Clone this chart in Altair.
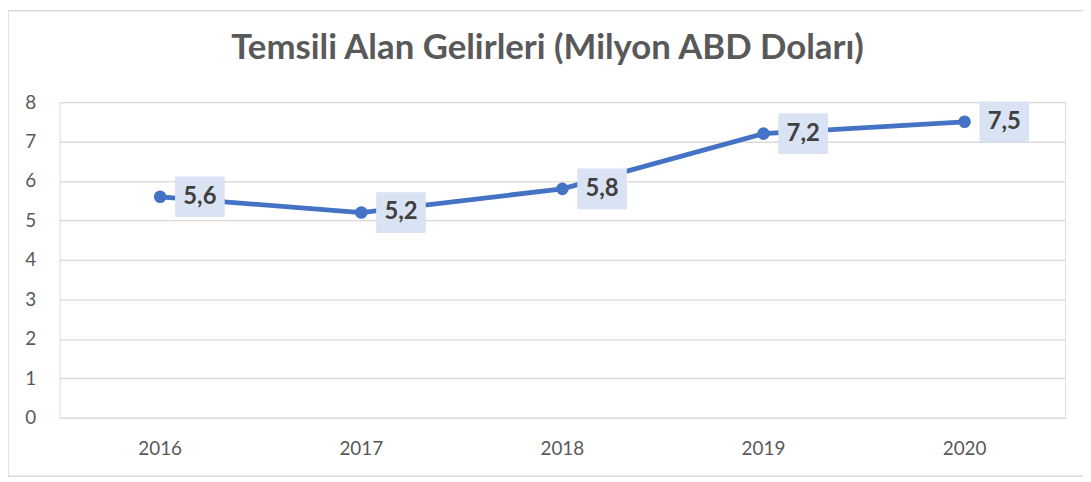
import altair as alt
import pandas as pd

years = ["2016", "2017", "2018", "2019", "2020"]
values = [5.6, 5.2, 5.8, 7.2, 7.5]
labels = ["5,6", "5,2", "5,8", "7,2", "7,5"]
title_text = ["Temsili Alan Gelirleri (Milyon ABD Doları)"]

df = pd.DataFrame({"year": years, "value": values, "label": labels})

W, H = 1013, 318
FONT = "Lato"

x = alt.X("year:O", title=None,
          axis=alt.Axis(labelAngle=0, labelFontSize=19, labelColor="#595959",
                        labelFont=FONT, labelPadding=22, ticks=False, domain=False, grid=False))
y = alt.Y("value:Q", title=None,
          scale=alt.Scale(domain=[0, 8], nice=False),
          axis=alt.Axis(values=list(range(0, 9)), labelFontSize=19, labelColor="#595959",
                        labelFont=FONT, labelPadding=24, ticks=False, domain=False,
                        grid=True, gridColor="#D9D9D9", gridWidth=1.3))

base = alt.Chart(df)

line = base.mark_line(color="#4472C4", strokeWidth=4.8).encode(x=x, y=y)
pts = base.mark_point(filled=True, color="#4472C4", size=160, opacity=1).encode(x=x, y=y)
boxes = base.mark_rect(width=50, height=41, xOffset=40, color="#DAE3F3").encode(x=x, y=y)
texts = base.mark_text(dx=40, fontSize=24, fontWeight="bold", color="#404040", font=FONT).encode(
    x=x, y=y, text="label:N")

title = alt.Chart(pd.DataFrame({"t": title_text})).mark_text(
    fontSize=35, font=FONT, fontWeight="bold", color="#595959", align="center", baseline="middle"
).encode(x=alt.value(W / 2 - 15), y=alt.value(-54), text="t:N")

border = alt.Chart(pd.DataFrame({"a": [0]})).mark_rect(
    fill=None, stroke="#D9D9D9", strokeWidth=1.5).encode(
    x=alt.value(-52), x2=alt.value(W + 22), y=alt.value(-92), y2=alt.value(H + 59))

chart = alt.layer(border, title, line, pts, boxes, texts).properties(
    width=W, height=H,
    autosize=alt.AutoSizeParams(type="none"),
    padding={"left": 52, "top": 93, "right": 18, "bottom": 62},
).configure_view(stroke=None).configure(background="white")

chart.save("out.html", embed_options={"renderer": "svg", "actions": False})
